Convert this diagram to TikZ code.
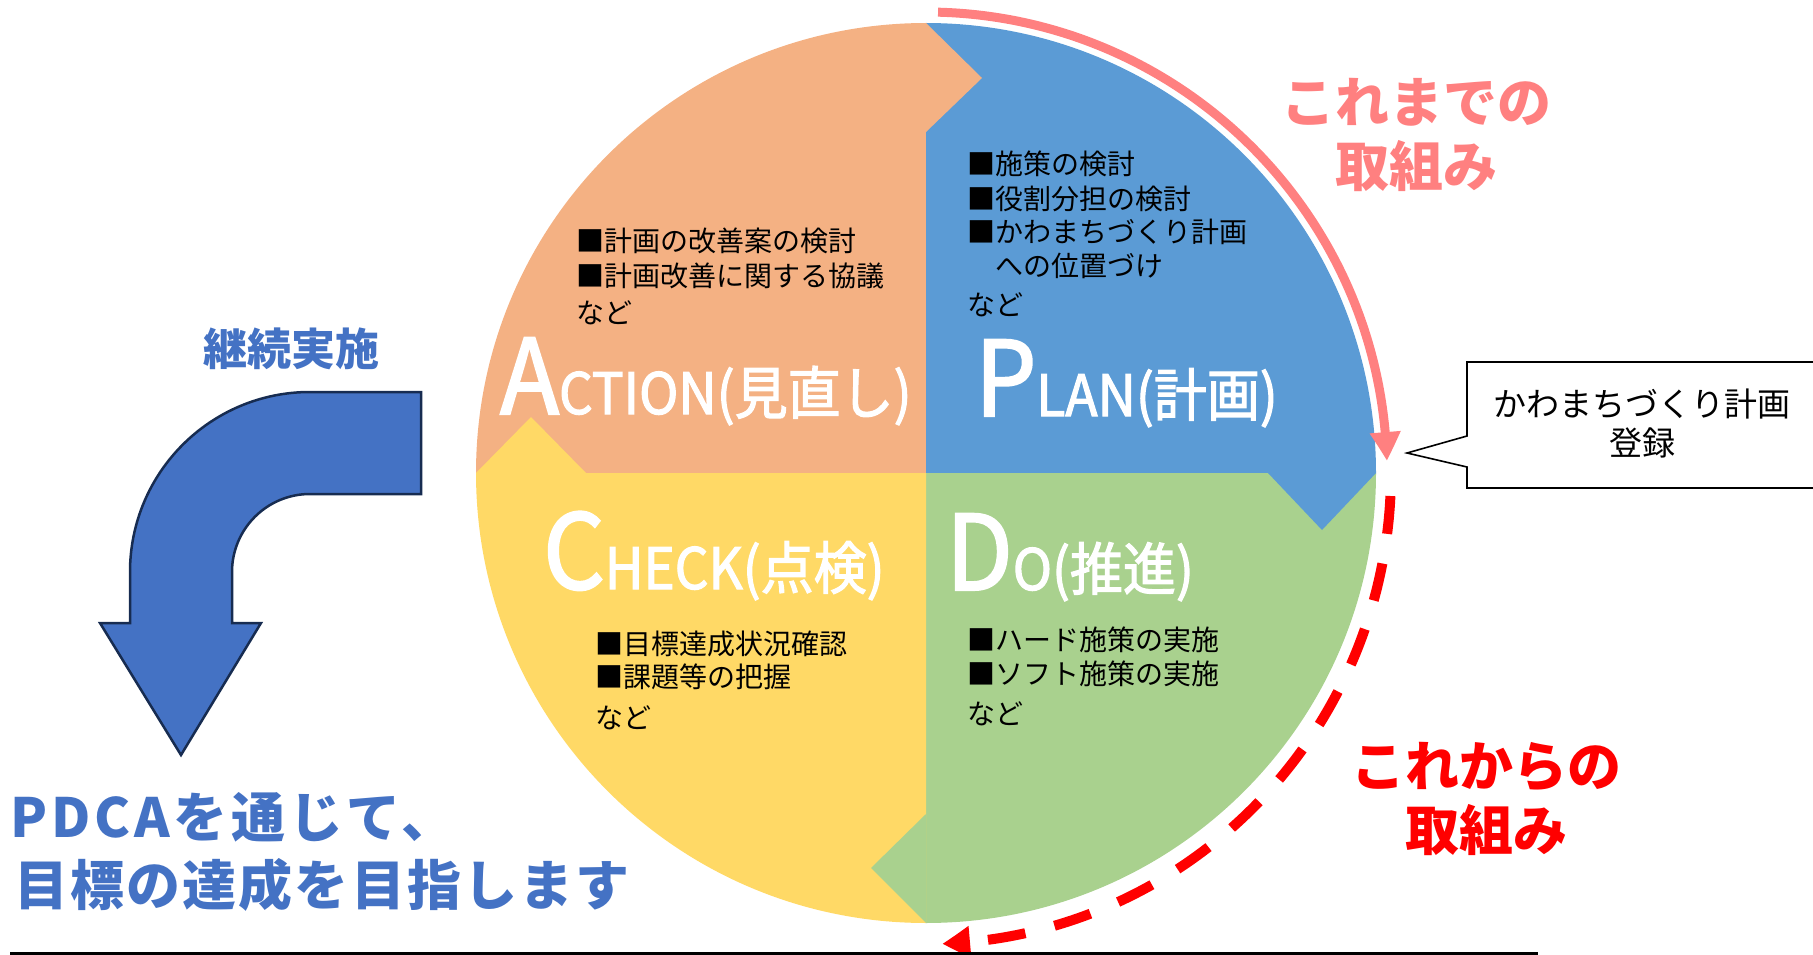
\documentclass[tikz,border=0pt]{standalone}
\usepackage{fontspec}
\setmainfont{Noto Sans CJK JP}
\newfontfamily\ttlfont[FakeBold=2,FakeStretch=0.93]{Noto Sans CJK JP}
\usetikzlibrary{arrows.meta,calc,bending}
\definecolor{cOrange}{RGB}{244,177,131}
\definecolor{cBlue}{RGB}{91,155,213}
\definecolor{cYellow}{RGB}{255,217,102}
\definecolor{cGreen}{RGB}{169,209,142}
\definecolor{cArrow}{RGB}{68,114,196}
\definecolor{cNavy}{RGB}{23,44,81}
\definecolor{cPink}{RGB}{255,128,128}
\definecolor{cRed}{RGB}{255,0,0}
\newcommand{\ttlbig}[1]{{\fontsize{104}{104}\selectfont #1}}
\newcommand{\ttlsmall}[1]{{\fontsize{57}{57}\selectfont #1}}
\begin{document}
\begin{tikzpicture}[x=1pt,y=1pt,
  item/.style={anchor=base west, inner sep=0pt, font=\fontsize{28}{34}\selectfont},
  ttl/.style={anchor=base west, inner sep=0pt, text=white, font=\ttlfont},
  bottomtxt/.style={anchor=base west, inner sep=0pt, text=cArrow, font=\bfseries\fontsize{54}{60}\selectfont},
  flowlabel/.style={align=center, inner sep=0pt, font=\bfseries\fontsize{54}{64}\selectfont}]
\useasboundingbox (0,0) rectangle (1813,-955);
\coordinate (C) at (926,-473);
% quadrants
\fill[cOrange] (C) -- (476,-473) arc[start angle=180,end angle=90,radius=450] -- cycle;
\fill[cBlue] (C) -- (926,-23) arc[start angle=90,end angle=0,radius=450] -- cycle;
\fill[cGreen] (C) -- (1376,-473) arc[start angle=0,end angle=-90,radius=450] -- cycle;
\fill[cYellow] (C) -- (926,-923) arc[start angle=-90,end angle=-180,radius=450] -- cycle;
% arrow tips of the cycle
\fill[cOrange] (926,-23) -- (982,-78) -- (926,-132) -- cycle;
\fill[cBlue] (1376,-473) -- (1322,-530) -- (1268,-473) -- cycle;
\fill[cGreen] (926,-923) -- (871,-868) -- (926,-814) -- cycle;
\fill[cYellow] (476,-473) -- (531,-417) -- (586,-473) -- cycle;
% titles
\node[ttl] (tA) at (500,-414) {\ttlbig{A}\ttlsmall{CTION(見直し)}};
\node[ttl] (tP) at (975,-416) {\ttlbig{P}\ttlsmall{LAN(計画)}};
\node[ttl] (tC) at (543,-589) {\ttlbig{C}\ttlsmall{HECK(点検)}};
\node[ttl] (tD) at (946,-590) {\ttlbig{D}\ttlsmall{O(推進)}};
% quadrant items
\node[item] (a1) at (576,-251) {■計画の改善案の検討};
\node[item] (a2) at (576,-286) {■計画改善に関する協議};
\node[item] (a3) at (576,-323) {など};
\node[item] (p1) at (967,-175) {■施策の検討};
\node[item] (p2) at (967,-209) {■役割分担の検討};
\node[item] (p3) at (967,-242) {■かわまちづくり計画};
\node[item] (p4) at (967,-276) {　への位置づけ};
\node[item] (p5) at (967,-315) {など};
\node[item] (c1) at (595,-654) {■目標達成状況確認};
\node[item] (c2) at (595,-687) {■課題等の把握};
\node[item] (c3) at (595,-728) {など};
\node[item] (d1) at (967,-650) {■ハード施策の実施};
\node[item] (d2) at (967,-684) {■ソフト施策の実施};
\node[item] (d3) at (967,-724) {など};
% outer arrows
\draw[cPink, line width=9pt, -{Triangle[width=29pt,length=29pt,bend]}]
  ($(C)+(88.5:461)$) arc[start angle=88.5,end angle=1.5,radius=461];
\draw[cRed, line width=10pt, dash pattern=on 38pt off 30pt, -{Triangle[width=30pt,length=28pt,bend]}]
  ($(C)+(-2.8:465 and 471)$) arc[start angle=-2.8,end angle=-88,x radius=465,y radius=471];
\node[flowlabel, text=cPink] (past) at (1416,-135) {これまでの\\取組み};
\node[flowlabel, text=cRed] (future) at (1486,-799) {これからの\\取組み};
% callout
\draw[line width=1.6pt, line join=miter] (1830,-362) -- (1467,-362) -- (1467,-436) -- (1407,-453) -- (1467,-467) -- (1467,-488) -- (1830,-488);
\node[align=center, inner sep=0pt, font=\fontsize{33}{39}\selectfont] (reg) at (1642,-424) {かわまちづくり計画\\登録};
% bent arrow
\filldraw[fill=cArrow, draw=cNavy, line width=2.5pt, line join=miter]
  (421,-392) -- (310,-392) arc[start angle=90,end angle=180,radius=180]
  -- (130,-623) -- (100,-623) -- (181,-755) -- (261,-623) -- (232,-623)
  -- (232,-572) arc[start angle=180,end angle=90,radius=78] -- (421,-494) -- cycle;
\node[inner sep=0pt, text=cArrow, font=\bfseries\fontsize{44}{50}\selectfont] (cont) at (291,-349) {継続実施};
\node[bottomtxt] (b1) at (10,-837) {\addfontfeature{LetterSpace=7}PDCAを通じて、};
\node[bottomtxt] (b2) at (14,-905) {\addfontfeature{LetterSpace=4}目標の達成を目指します};
% bottom rule
\draw[line width=3pt] (10,-953) -- (1538,-953);
\end{tikzpicture}
\end{document}
